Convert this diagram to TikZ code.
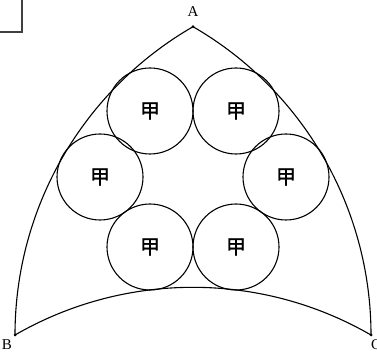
\documentclass[tikz,border=0pt]{standalone}
\usepackage{fontspec}
\setmainfont{Liberation Serif}
\newfontfamily\cjk[FakeBold=1.5]{Noto Sans CJK SC}
\begin{document}
\begin{tikzpicture}[x=1pt,y=1pt,
  edge/.style={line width=1.1pt,black},
  ring/.style={circle,draw,line width=1.1pt,minimum size=86pt,inner sep=0pt,font=\cjk\fontsize{20}{20}\selectfont},
  vlabel/.style={font=\fontsize{15}{15}\selectfont,inner sep=0pt},
  vdot/.style={circle,fill,inner sep=0pt,minimum size=3pt}]
\useasboundingbox (0,0) rectangle (377,353);
% vertices
\node[vdot] (A) at (193,326.3) {};
\node[vdot] (B) at (15,18) {};
\node[vdot] (C) at (371,18) {};
\node[vlabel] (lA) at (193,341) {A};
\node[vlabel] (lB) at (7,8) {B};
\node[vlabel] (lC) at (376,8) {C};
% arcs
\draw[edge] (A.center) arc[start angle=120,end angle=180,radius=356pt];
\draw[edge] (A.center) arc[start angle=60,end angle=0,radius=356pt];
\draw[edge] (B.center) arc[start angle=120,end angle=60,radius=356pt];
% circles
\node[ring] (c1) at (150,242) {甲};
\node[ring] (c2) at (236,242) {甲};
\node[ring] (c3) at (286,176) {甲};
\node[ring] (c4) at (236,106) {甲};
\node[ring] (c5) at (150,106) {甲};
\node[ring] (c6) at (100,176) {甲};
% corner box fragment
\draw[line width=1.6pt,black!75] (-5,321) -- (22,321) -- (22,358);
\end{tikzpicture}
\end{document}
